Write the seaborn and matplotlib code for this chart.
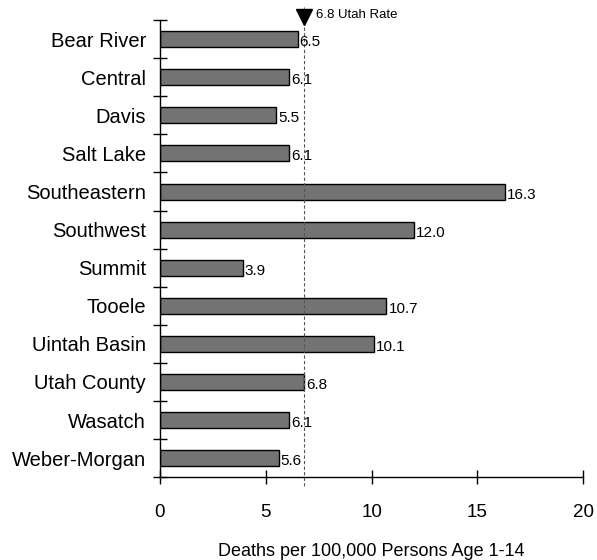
import matplotlib
matplotlib.use("Agg")
import matplotlib.pyplot as plt
import matplotlib.transforms as mtransforms
import numpy as np
import pandas as pd
import seaborn as sns

districts = ["Bear River", "Central", "Davis", "Salt Lake", "Southeastern",
             "Southwest", "Summit", "Tooele", "Uintah Basin", "Utah County",
             "Wasatch", "Weber-Morgan"]
rates = [6.5, 6.1, 5.5, 6.1, 16.3, 12.0, 3.9, 10.7, 10.1, 6.8, 6.1, 5.6]
utah_rate = 6.8
x_ticks = [0, 5, 10, 15, 20]

df = pd.DataFrame({"district": districts, "rate": rates})

sns.set_style("white")
plt.rcParams["font.family"] = ["Liberation Sans", "DejaVu Sans"]
plt.rcParams["text.color"] = "black"
plt.rcParams["axes.labelcolor"] = "black"

fig = plt.figure(figsize=(5.97, 5.6), dpi=100)
ax = fig.add_axes([0.268, 0.148, 0.709, 0.816])

sns.barplot(data=df, x="rate", y="district", orient="h", color="#737373",
            edgecolor="black", linewidth=1.0, width=0.42, saturation=1, ax=ax)

ax.set_xlim(0, 20)
ax.set_ylim(len(districts) - 0.5, -0.5)

# value labels
for i, v in enumerate(rates):
    ax.text(v + 0.1, i + 0.08, f"{v:.1f}", va="center", ha="left",
            fontsize=11, color="black")

# Utah rate reference line with triangle marker
trans = mtransforms.blended_transform_factory(ax.transData, ax.transAxes)
ax.plot([utah_rate, utah_rate], [-0.02, 1.028], transform=trans, color="#555555",
        linestyle=(0, (3, 2)), linewidth=0.8, clip_on=False, zorder=1)
ax.plot([utah_rate], [1.006], transform=trans, marker="v", markersize=12,
        color="black", clip_on=False, zorder=5)
ax.text(utah_rate + 0.55, 1.011, f"{utah_rate} Utah Rate", transform=trans,
        fontsize=9.5, va="center", ha="left", color="black")

# axes styling
for side in ["top", "right"]:
    ax.spines[side].set_visible(False)
for side in ["left", "bottom"]:
    ax.spines[side].set_color("black")
    ax.spines[side].set_linewidth(1.0)

ax.set_xticks(x_ticks)
ax.set_xticklabels([str(t) for t in x_ticks])
ax.tick_params(axis="x", bottom=True, direction="inout", length=10, width=1.0,
               pad=14, labelsize=13.5, colors="black")
ax.set_yticks(np.arange(len(districts)))
ax.set_yticklabels(districts)
ax.set_yticks(np.arange(len(districts) + 1) - 0.5, minor=True)
ax.tick_params(axis="y", which="major", left=False, length=0, pad=10,
               labelsize=14.5, labelcolor="black")
ax.tick_params(axis="y", which="minor", left=True, direction="inout", length=10,
               width=1.0, color="black")

ax.set_ylabel("")
ax.set_xlabel("Deaths per 100,000 Persons Age 1-14", fontsize=13, labelpad=16,
              color="black")

fig.savefig("out.png", dpi=100)
